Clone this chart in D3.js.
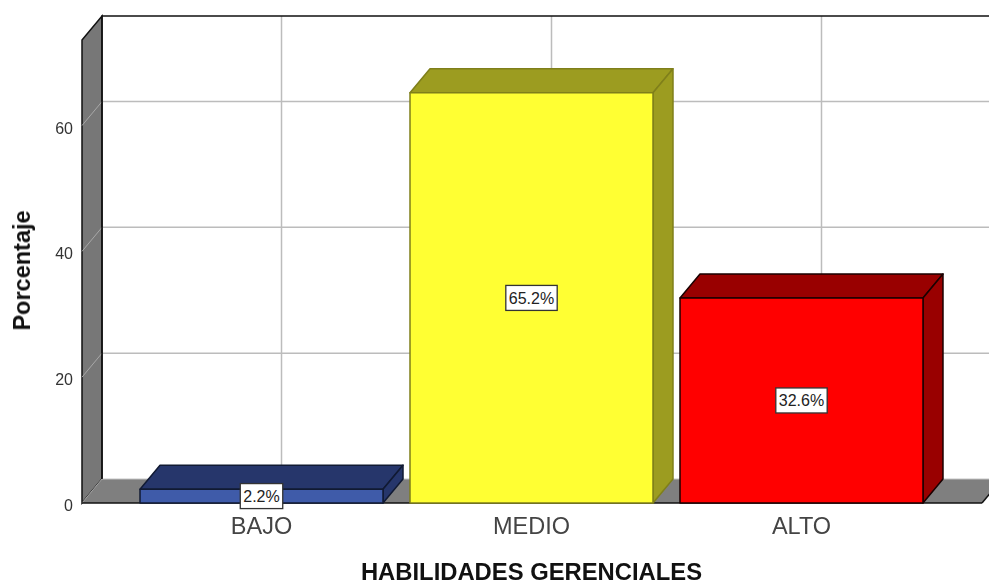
<!DOCTYPE html>
<html>
<head>
<meta charset="utf-8">
<script src="https://cdnjs.cloudflare.com/ajax/libs/d3/7.8.5/d3.min.js"></script>
<style>
html, body { margin: 0; padding: 0; background: #fff; }
svg { display: block; font-family: "Liberation Sans", Arial, sans-serif; filter: blur(0.35px); }
</style>
</head>
<body>
<div id="chart"></div>
<script>
const categories = ['BAJO', 'MEDIO', 'ALTO'];
const percentages = [2.2, 65.2, 32.6];
const percentLabels = ['2.2%', '65.2%', '32.6%'];
const yTicks = [0, 20, 40, 60];
const frontColours = ['#3f5ba9', '#ffff33', '#ff0000'];
const sideColours = ['#26366b', '#9c9c20', '#990000'];
const edgeColours = ['#111a33', '#7f7f1a', '#1a0000'];
const xTitle = 'HABILIDADES GERENCIALES';
const yTitle = 'Porcentaje';

const config = {
    width: 989,
    height: 582,
    left: 82,
    right: 982,
    floor: 503,
    top: 40,
    yMax: 73.6,
    depthX: 20,
    depthY: 24,
    wall: '#777777',
    grid: '#bcbcbc',
};

const svg = d3.select('#chart').append('svg')
    .attr('width', config.width)
    .attr('height', config.height);

const xScale = d3.scaleBand()
    .domain(categories)
    .range([config.left - 0.5, config.right - 0.5])
    .paddingInner(0.1)
    .paddingOuter(0.2167);

const yScale = d3.scaleLinear()
    .domain([0, config.yMax])
    .range([config.floor, config.top]);

const path = points => d3.line()(points) + 'Z';
const dx = config.depthX;
const dy = config.depthY;

// back wall gridlines, horizontal and vertical
svg.append('g').selectAll('line')
    .data(yTicks.slice(1))
    .join('line')
    .attr('x1', config.left + dx)
    .attr('x2', config.width)
    .attr('y1', d => yScale(d) - dy)
    .attr('y2', d => yScale(d) - dy)
    .attr('stroke', config.grid)
    .attr('stroke-width', 1.5);

svg.append('g').selectAll('line')
    .data(categories)
    .join('line')
    .attr('x1', d => xScale(d) + xScale.bandwidth() / 2 + dx)
    .attr('x2', d => xScale(d) + xScale.bandwidth() / 2 + dx)
    .attr('y1', config.top - dy)
    .attr('y2', config.floor - dy)
    .attr('stroke', config.grid)
    .attr('stroke-width', 1.5);

// left wall and floor
svg.append('path')
    .attr('d', path([
        [config.left, config.top],
        [config.left + dx, config.top - dy],
        [config.left + dx, config.floor - dy],
        [config.left, config.floor],
    ]))
    .attr('fill', config.wall)
    .attr('stroke', '#111')
    .attr('stroke-width', 1.5);

svg.append('path')
    .attr('d', path([
        [config.left, config.floor],
        [config.left + dx, config.floor - dy],
        [config.right + dx, config.floor - dy],
        [config.right, config.floor],
    ]))
    .attr('fill', '#7f7f7f');

svg.append('line')
    .attr('x1', config.left + dx)
    .attr('x2', config.right + dx)
    .attr('y1', config.floor - dy)
    .attr('y2', config.floor - dy)
    .attr('stroke', '#c4c4c4')
    .attr('stroke-width', 1);

svg.append('g').selectAll('line')
    .data(yTicks)
    .join('line')
    .attr('x1', config.left)
    .attr('x2', config.left + dx)
    .attr('y1', d => yScale(d))
    .attr('y2', d => yScale(d) - dy)
    .attr('stroke', '#a8a8a8')
    .attr('stroke-width', 1);

// frame
svg.append('path')
    .attr('d', d3.line()([
        [config.left + dx, config.floor - dy],
        [config.left + dx, config.top - dy],
        [config.width, config.top - dy],
    ]))
    .attr('fill', 'none')
    .attr('stroke', '#111')
    .attr('stroke-width', 1.5);

svg.append('line')
    .attr('x1', config.left)
    .attr('x2', config.right)
    .attr('y1', config.floor)
    .attr('y2', config.floor)
    .attr('stroke', '#111')
    .attr('stroke-width', 1.5);

svg.append('line')
    .attr('x1', config.right)
    .attr('x2', config.right + dx)
    .attr('y1', config.floor)
    .attr('y2', config.floor - dy)
    .attr('stroke', '#111')
    .attr('stroke-width', 1.5);

// bars
const bars = svg.append('g').selectAll('g')
    .data(categories)
    .join('g')
    .attr('stroke', (d, i) => edgeColours[i])
    .attr('stroke-width', 1.5)
    .attr('stroke-linejoin', 'round');

const barLeft = d => xScale(d);
const barRight = d => xScale(d) + xScale.bandwidth();
const barTop = (d, i) => yScale(percentages[i]);

bars.append('path')
    .attr('d', (d, i) => path([
        [barLeft(d), barTop(d, i)],
        [barLeft(d) + dx, barTop(d, i) - dy],
        [barRight(d) + dx, barTop(d, i) - dy],
        [barRight(d), barTop(d, i)],
    ]))
    .attr('fill', (d, i) => sideColours[i]);

bars.append('path')
    .attr('d', (d, i) => path([
        [barRight(d), barTop(d, i)],
        [barRight(d) + dx, barTop(d, i) - dy],
        [barRight(d) + dx, config.floor - dy],
        [barRight(d), config.floor],
    ]))
    .attr('fill', (d, i) => sideColours[i]);

bars.append('rect')
    .attr('x', barLeft)
    .attr('y', barTop)
    .attr('width', xScale.bandwidth())
    .attr('height', (d, i) => config.floor - barTop(d, i))
    .attr('fill', (d, i) => frontColours[i]);

// value labels
const labels = svg.append('g').selectAll('g')
    .data(categories)
    .join('g')
    .attr('transform', (d, i) => {
        const cx = xScale(d) + xScale.bandwidth() / 2;
        const cy = (yScale(percentages[i]) + config.floor) / 2;
        return `translate(${cx},${cy})`;
    });

labels.append('text')
    .attr('text-anchor', 'middle')
    .attr('dy', '0.36em')
    .attr('font-size', 16)
    .attr('fill', '#222')
    .text((d, i) => percentLabels[i]);

labels.insert('rect', 'text')
    .each(function () {
        const box = this.parentNode.querySelector('text').getBBox();
        d3.select(this)
            .attr('x', box.x - 3)
            .attr('y', -12.5)
            .attr('width', box.width + 6)
            .attr('height', 25);
    })
    .attr('fill', '#fff')
    .attr('stroke', '#333')
    .attr('stroke-width', 1.3);

// axes
const yAxisGroup = svg.append('g')
    .attr('transform', `translate(${config.left},0)`)
    .call(d3.axisLeft(yScale).tickValues(yTicks).tickSize(0).tickPadding(9));
yAxisGroup.select('.domain').remove();
yAxisGroup.selectAll('text')
    .attr('dy', '0.47em')
    .attr('font-family', '"Liberation Sans", Arial, sans-serif')
    .attr('font-size', 16)
    .attr('fill', '#333');

const xAxisGroup = svg.append('g')
    .attr('transform', `translate(0,${config.floor})`)
    .call(d3.axisBottom(xScale).tickSize(0).tickPadding(14.3));
xAxisGroup.select('.domain').remove();
xAxisGroup.selectAll('text')
    .attr('font-family', '"Liberation Sans", Arial, sans-serif')
    .attr('font-size', 23.5)
    .attr('fill', '#444');

svg.append('text')
    .attr('x', 531.5)
    .attr('y', 580)
    .attr('text-anchor', 'middle')
    .attr('font-size', 23.8)
    .attr('font-weight', 'bold')
    .attr('fill', '#111')
    .text(xTitle);

svg.append('text')
    .attr('transform', 'translate(30,270.5) rotate(-90)')
    .attr('text-anchor', 'middle')
    .attr('font-size', 23.5)
    .attr('font-weight', 'bold')
    .attr('fill', '#111')
    .text(yTitle);
</script>
</body>
</html>
